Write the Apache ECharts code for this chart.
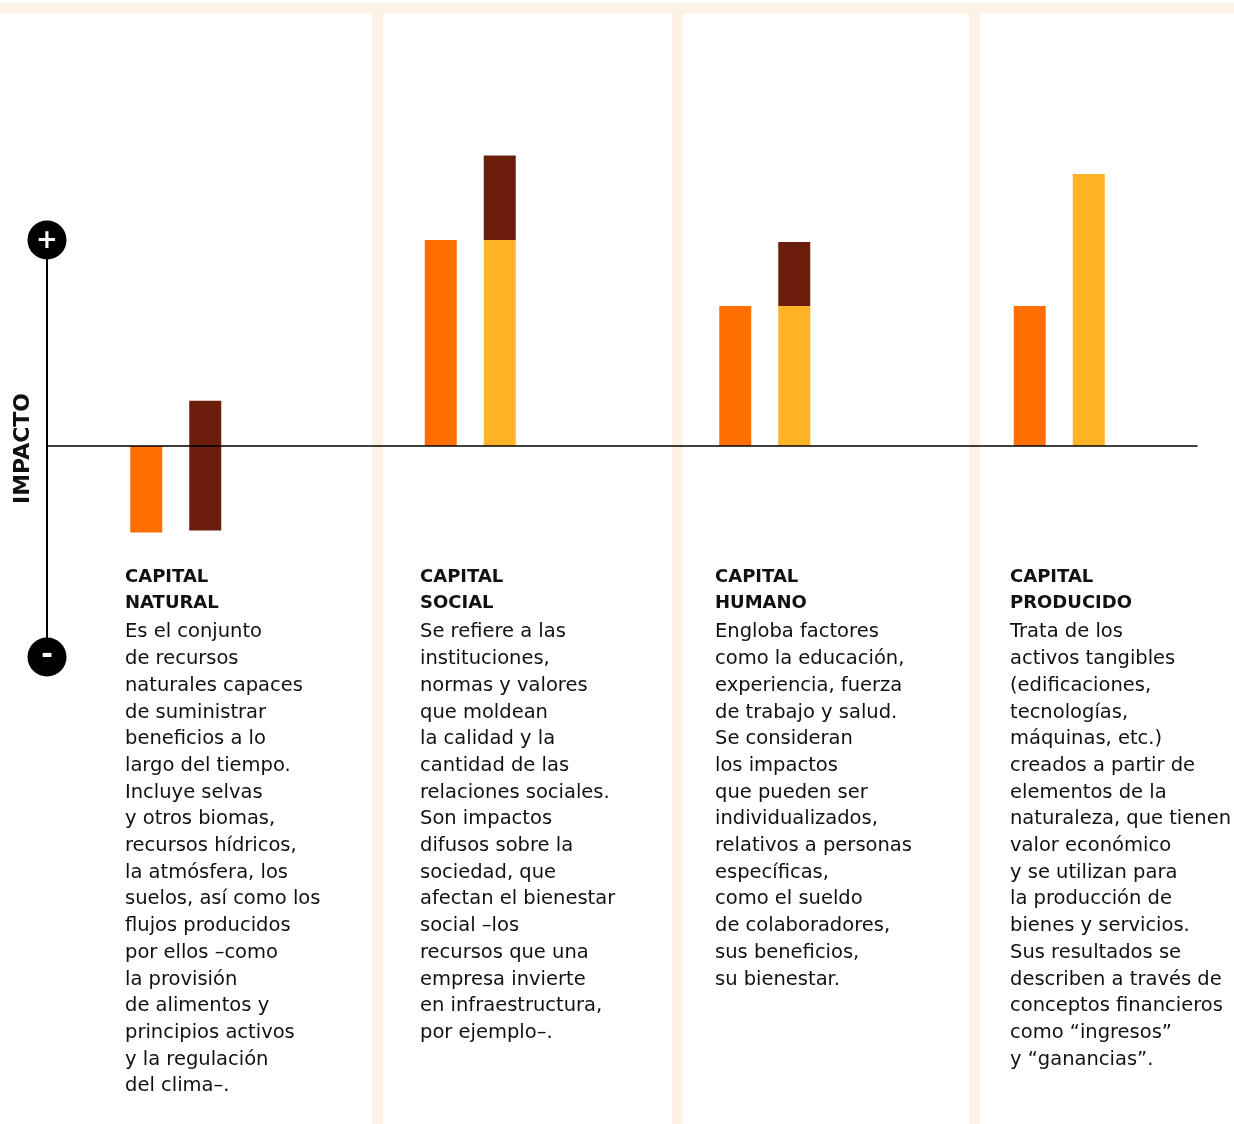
<!DOCTYPE html>
<html>
<head>
<meta charset="utf-8">
<script src="https://cdn.jsdelivr.net/npm/echarts@6/dist/echarts.min.js"></script>
<style>
  html, body { margin: 0; padding: 0; background: #ffffff; }
  #chart { width: 1234px; height: 1124px; }
</style>
</head>
<body>
<div id="chart"></div>
<script>
// ---- data ----
const categories = ['Capital natural', 'Capital social', 'Capital humano', 'Capital producido'];
// impact values (arbitrary units, +100 = "+" marker level)
const orangeValues = [-42, 100, 68, 68];
const yellowValues = [0, 100, 68, 132];
const darkFrom = [-41, 100, 68, 132];
const darkTo = [22, 141, 99, 132];

const headings = ['CAPITAL\nNATURAL', 'CAPITAL\nSOCIAL', 'CAPITAL\nHUMANO', 'CAPITAL\nPRODUCIDO'];
const descNatural = ['Es el conjunto', 'de recursos', 'naturales capaces', 'de suministrar', 'beneficios a lo', 'largo del tiempo.', 'Incluye selvas', 'y otros biomas,', 'recursos hídricos,', 'la atmósfera, los', 'suelos, así como los', 'flujos producidos', 'por ellos –como', 'la provisión', 'de alimentos y', 'principios activos', 'y la regulación', 'del clima–.'];
const descSocial = ['Se refiere a las', 'instituciones,', 'normas y valores', 'que moldean', 'la calidad y la', 'cantidad de las', 'relaciones sociales.', 'Son impactos', 'difusos sobre la', 'sociedad, que', 'afectan el bienestar', 'social –los', 'recursos que una', 'empresa invierte', 'en infraestructura,', 'por ejemplo–.'];
const descHumano = ['Engloba factores', 'como la educación,', 'experiencia, fuerza', 'de trabajo y salud.', 'Se consideran', 'los impactos', 'que pueden ser', 'individualizados,', 'relativos a personas', 'específicas,', 'como el sueldo', 'de colaboradores,', 'sus beneficios,', 'su bienestar.'];
const descProducido = ['Trata de los', 'activos tangibles', '(edificaciones,', 'tecnologías,', 'máquinas, etc.)', 'creados a partir de', 'elementos de la', 'naturaleza, que tienen', 'valor económico', 'y se utilizan para', 'la producción de', 'bienes y servicios.', 'Sus resultados se', 'describen a través de', 'conceptos financieros', 'como “ingresos”', 'y “ganancias”.'];
const descriptions = [descNatural, descSocial, descHumano, descProducido];
const axisName = 'IMPACTO';

// ---- derived for stacking ----
const baseValues = darkFrom.map((v, i) => v - yellowValues[i]);
const darkValues = darkTo.map((v, i) => v - darkFrom[i]);

const COLORS = { orange: '#FF6F00', yellow: '#FFB326', dark: '#6B1E0C', cream: '#FDF2E6', ink: '#111111' };
const FONT = 'DejaVu Sans';
const textLefts = [125, 420, 715, 1010];
const sepXs = [372, 672, 969];

const chart = echarts.init(document.getElementById('chart'), null, { renderer: 'canvas' });

const titles = headings.map((h, i) => ({
  text: h,
  subtext: descriptions[i].join('\n'),
  left: textLefts[i],
  top: 565,
  padding: 0,
  itemGap: 3,
  textStyle: { fontFamily: FONT, fontSize: 18, fontWeight: 'bold', color: COLORS.ink, lineHeight: 25.5 },
  subtextStyle: { fontFamily: FONT, fontSize: 19.5, fontWeight: 'normal', color: COLORS.ink, lineHeight: 26.7 }
}));

const graphics = [
  { type: 'rect', z: -10, shape: { x: 0, y: 3, width: 1234, height: 11 }, style: { fill: COLORS.cream } }
].concat(sepXs.map(x => ({ type: 'rect', z: -10, shape: { x: x, y: 14, width: 11, height: 1110 }, style: { fill: COLORS.cream } })))
 .concat([
  { type: 'text', z: 100, x: 47, y: 241, style: { text: '+', fill: '#fff', fontFamily: FONT, fontSize: 26, fontWeight: 'bold', align: 'center', verticalAlign: 'middle' } },
  { type: 'text', z: 100, x: 47, y: 656, style: { text: '-', fill: '#fff', fontFamily: FONT, fontSize: 28, fontWeight: 'bold', align: 'center', verticalAlign: 'middle' } }
 ]);

const option = {
  animation: false,
  backgroundColor: '#ffffff',
  title: titles,
  graphic: graphics,
  grid: [
    { left: 47, right: 37, top: 240, bottom: 467, containLabel: false },
    { left: 28.5, right: 27.5, top: 137, bottom: 467, containLabel: false }
  ],
  xAxis: [
    { gridIndex: 0, type: 'value', min: 0, max: 1, z: 10,
      axisLine: { show: true, onZero: true, lineStyle: { color: '#000', width: 1.6 } },
      axisTick: { show: false }, axisLabel: { show: false }, splitLine: { show: false } },
    { gridIndex: 1, type: 'category', data: categories,
      axisLine: { show: false }, axisTick: { show: false }, axisLabel: { show: false }, splitLine: { show: false } }
  ],
  yAxis: [
    { gridIndex: 0, type: 'value', min: -102.4, max: 100, z: 10,
      name: axisName, nameLocation: 'middle', nameGap: 13, nameRotate: 90,
      nameTextStyle: { fontFamily: FONT, fontSize: 22, fontWeight: 'bold', color: COLORS.ink },
      axisLine: { show: true, onZero: false, symbol: ['circle', 'circle'], symbolSize: [39, 39], lineStyle: { color: '#000', width: 2 } },
      axisTick: { show: false }, axisLabel: { show: false }, splitLine: { show: false } },
    { gridIndex: 1, type: 'value', min: -102.4, max: 150,
      axisLine: { show: false }, axisTick: { show: false }, axisLabel: { show: false }, splitLine: { show: false } }
  ],
  series: [
    { name: 'orange', type: 'bar', xAxisIndex: 1, yAxisIndex: 1, barWidth: 32,
      data: orangeValues, itemStyle: { color: COLORS.orange }, silent: true },
    { name: 'base', type: 'bar', xAxisIndex: 1, yAxisIndex: 1, barWidth: 32, stack: 'b', stackStrategy: 'all',
      data: baseValues, itemStyle: { color: 'rgba(0,0,0,0)' }, silent: true },
    { name: 'yellow', type: 'bar', xAxisIndex: 1, yAxisIndex: 1, barWidth: 32, stack: 'b', stackStrategy: 'all',
      data: yellowValues, itemStyle: { color: COLORS.yellow }, silent: true },
    { name: 'dark', type: 'bar', xAxisIndex: 1, yAxisIndex: 1, barWidth: 32, stack: 'b', stackStrategy: 'all', barGap: '84.4%',
      data: darkValues, itemStyle: { color: COLORS.dark }, silent: true }
  ]
};
chart.setOption(option);
</script>
</body>
</html>
